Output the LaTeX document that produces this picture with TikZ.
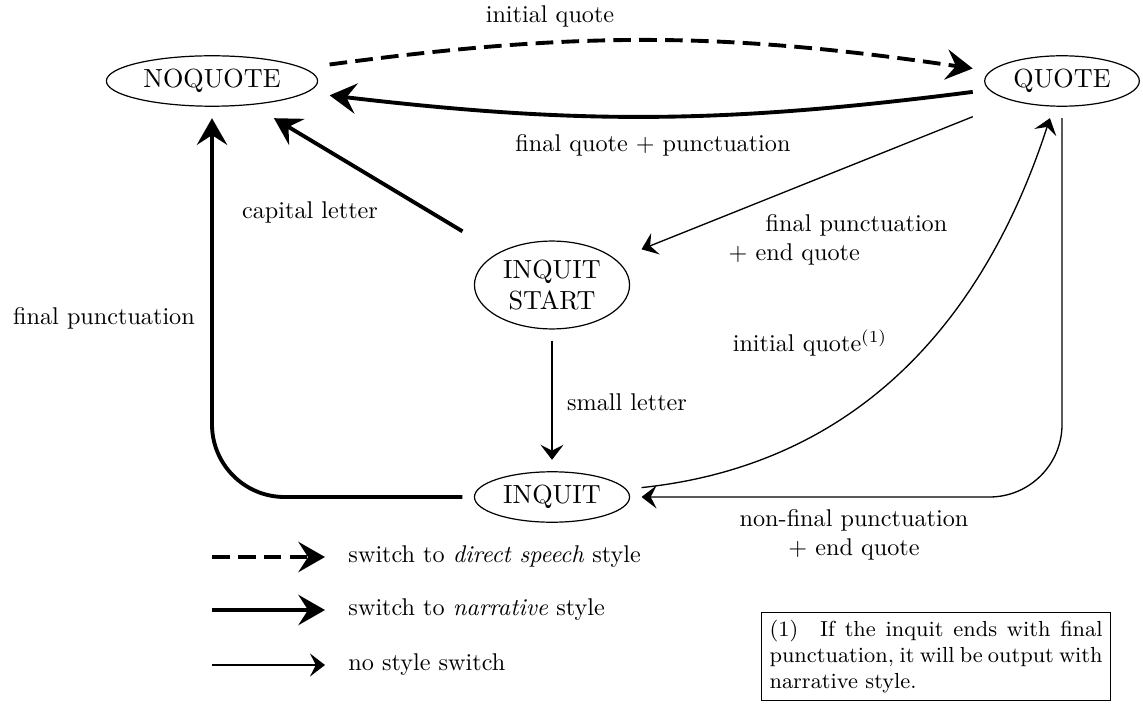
\documentclass[tikz,border=0pt]{standalone}
\usetikzlibrary{arrows.meta,fit,shapes.geometric}
\begin{document}
\begin{tikzpicture}[x=0.4132pt,y=-0.4132pt,
  state/.style={ellipse,draw,line width=0.5pt,inner sep=2.5pt,align=center,
    font=\fontsize{10.83pt}{12.8pt}\selectfont},
  frame/.style={rectangle,inner sep=4.7pt,outer sep=0pt},
  lbl/.style={font=\fontsize{10pt}{12pt}\selectfont,inner sep=0pt},
  thinarrow/.style={line width=0.55pt,-{Stealth[length=6.2pt,width=9.5pt,inset=2.4pt]}},
  thickarrow/.style={line width=1.6pt,-{Stealth[length=11pt,width=12.5pt,inset=4pt]}},
  dasharrow/.style={thickarrow,dash pattern=on 7.3pt off 3.4pt},
]
\useasboundingbox (0,0) rectangle (1143,705);

% states
\node[state] (nqe) at (212,81) {NOQUOTE};
\node[frame,fit=(nqe)] (nq) {};
\node[state] (qe) at (1062,81) {QUOTE};
\node[frame,fit=(qe)] (q) {};
\node[state] (ise) at (552,285) {INQUIT\\START};
\node[frame,fit=(ise)] (is) {};
\node[state] (iqe) at (552,497) {INQUIT};
\node[frame,fit=(iqe)] (iq) {};

% transitions
\draw[dasharrow] (nq) to[bend left=8] (q);
\draw[thickarrow] (q) to[bend left=7] (nq);
\draw[thickarrow] (is) -- (nq);
\draw[thinarrow] (q) -- (is);
\draw[thinarrow] (is) -- (iq);
\draw[thickarrow,rounded corners=30pt] (iq) -| (nq);
\draw[thinarrow] (iq) to[out=6,in=-108] (q);
\draw[thinarrow,rounded corners=30pt] (q) |- (iq);

% labels
\node[lbl] (l1) at (550,16) {initial quote};
\node[lbl] (l2) at (653,145) {final quote + punctuation};
\node[lbl] (l3) at (310,212) {capital letter};
\node[lbl] (l4) at (104,318) {final punctuation};
\node[lbl,align=left] (l5) at (838,240) {\hspace*{15.3pt}final punctuation\\+ end quote};
\node[lbl] (l6) at (627,402) {small letter};
\node[lbl] (l7) at (810,343) {initial quote$^{(1)}$};
\node[lbl,align=center] (l8) at (854,535) {non-final punctuation\\+ end quote};

% legend
\coordinate (a1) at (212,557); \coordinate (a2) at (325,557);
\coordinate (b1) at (212,610); \coordinate (b2) at (325,610);
\coordinate (c1) at (212,665); \coordinate (c2) at (325,665);
\draw[dasharrow] (a1) -- (a2);
\draw[thickarrow] (b1) -- (b2);
\draw[thinarrow] (c1) -- (c2);
\node[lbl,anchor=west] (t1) at (348,557) {switch to \emph{direct speech} style};
\node[lbl,anchor=west] (t2) at (348,610) {switch to \emph{narrative} style};
\node[lbl,anchor=west] (t3) at (348,665) {no style switch};

% footnote
\node[draw,line width=0.5pt,anchor=north west,text width=137.6pt,align=justify,
  inner sep=3.3pt,font=\fontsize{9pt}{10.6pt}\selectfont] (fn) at (761,612)
  {(1)\quad If the inquit ends with final punctuation, it will be output with narrative style.};
\end{tikzpicture}
\end{document}
